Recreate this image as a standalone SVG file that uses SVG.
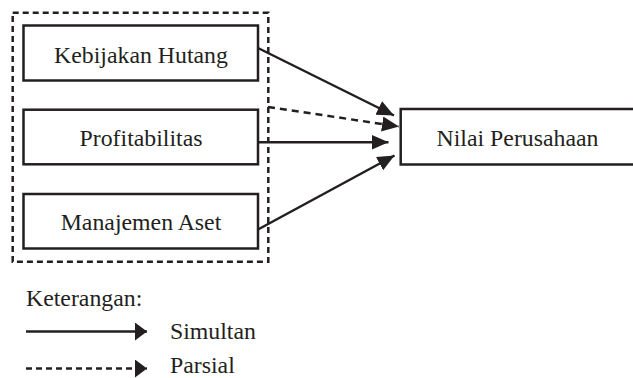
<svg xmlns="http://www.w3.org/2000/svg" width="633" height="378" viewBox="0 0 633 378">
<style>
.box{fill:#fff;stroke:#231f20;stroke-width:2.5}
.t{font-family:'Times New Roman','Liberation Serif',Tinos,serif;font-size:23.8px;fill:#231f20}
.conn{stroke:#231f20;stroke-width:2.5;fill:none}
.dash{stroke-dasharray:7 5}
</style>
<defs>
<marker id="ah" markerUnits="userSpaceOnUse" markerWidth="18" markerHeight="16" refX="17" refY="7.5" orient="auto">
<path d="M0,0 L17,7.5 L0,15 z" fill="#231f20"/>
</marker>
<marker id="lh" markerUnits="userSpaceOnUse" markerWidth="13" markerHeight="19" refX="12" refY="9" orient="auto">
<path d="M0,0 L12,9 L0,18 z" fill="#231f20"/>
</marker>
</defs>
<rect x="12.7" y="12.7" width="255.6" height="249" fill="none" stroke="#231f20" stroke-width="2.5" stroke-dasharray="6 4"/>
<g id="kebijakan">
<rect class="box" x="23.5" y="25.5" width="234.5" height="55"/>
<text class="t" x="141" y="62.5" text-anchor="middle">Kebijakan Hutang</text>
</g>
<g id="profitabilitas">
<rect class="box" x="23.5" y="109.7" width="234.5" height="54.6"/>
<text class="t" x="141" y="145.5" text-anchor="middle">Profitabilitas</text>
</g>
<g id="manajemen">
<rect class="box" x="23.5" y="194" width="234.5" height="54.5"/>
<text class="t" x="141" y="229.5" text-anchor="middle">Manajemen Aset</text>
</g>
<g id="nilai">
<rect class="box" x="400.7" y="109" width="240" height="55.5"/>
<text class="t" x="517.5" y="145.5" text-anchor="middle">Nilai Perusahaan</text>
</g>
<g id="connectors">
<line class="conn" x1="258" y1="48" x2="394" y2="115.5" marker-end="url(#ah)"/>
<line class="conn dash" x1="268" y1="107" x2="399" y2="126.5" marker-end="url(#ah)"/>
<line class="conn" x1="258" y1="142.3" x2="388.5" y2="142.3" marker-end="url(#ah)"/>
<line class="conn" x1="258" y1="229.5" x2="394.5" y2="155.5" marker-end="url(#ah)"/>
</g>
<g id="legend">
<text class="t" x="26" y="305.7">Keterangan:</text>
<line class="conn" x1="26" y1="331.5" x2="147" y2="331.5" marker-end="url(#lh)"/>
<text class="t" x="170" y="339">Simultan</text>
<line class="conn" x1="26" y1="368.5" x2="147" y2="368.5" stroke-dasharray="6 4" marker-end="url(#lh)"/>
<text class="t" x="170" y="373.3">Parsial</text>
</g>
</svg>
